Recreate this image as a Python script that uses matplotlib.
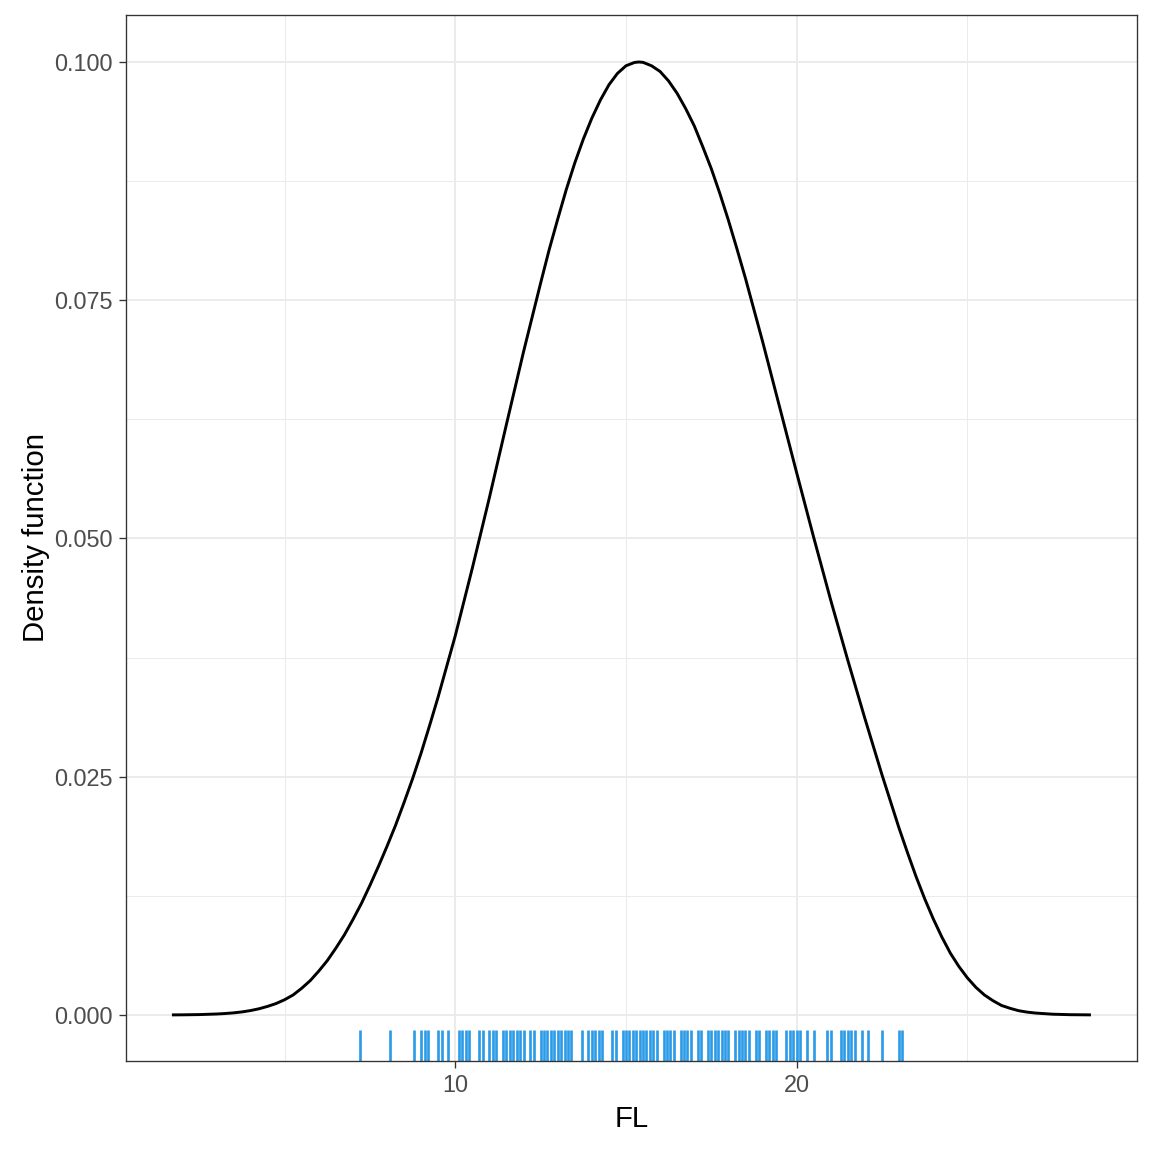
import matplotlib
matplotlib.use("Agg")
import matplotlib.pyplot as plt
from matplotlib.ticker import FixedLocator, FuncFormatter
import matplotlib.transforms as mtransforms

# Density curve (x = FL, y = density)
curve_x = [1.7, 2.0, 2.5, 3.0, 3.25, 3.5, 3.75, 4.0, 4.25, 4.5, 4.75, 5.0, 5.25, 5.5, 5.75,
           6.0, 6.25, 6.5, 6.75, 7.0, 7.25, 7.5, 7.75, 8.0, 8.25, 8.5, 8.75, 9.0, 9.25, 9.5,
           10.0, 10.5, 11.0, 11.5, 12.0, 12.25, 12.5, 12.75, 13.0, 13.25, 13.5, 13.75,
           14.0, 14.25, 14.5, 14.75, 15.0, 15.25, 15.375, 15.5, 15.75, 16.0, 16.25, 16.5,
           16.75, 17.0, 17.25, 17.5, 17.75, 18.0, 18.25, 18.5, 19.0, 19.5, 20.0, 20.5,
           21.0, 21.5, 22.0, 22.5, 22.75, 23.0, 23.25, 23.5, 23.75, 24.0, 24.25, 24.5,
           24.75, 25.0, 25.25, 25.5, 25.75, 26.0, 26.25, 26.5, 26.75, 27.0, 27.5, 28.0, 28.62]
curve_y = [0.000008, 0.000015, 0.00004, 0.0001, 0.00015, 0.00022, 0.00032, 0.00046, 0.00065,
           0.0009, 0.0012, 0.0016, 0.0021, 0.0028, 0.0036,
           0.0046, 0.0057, 0.0070, 0.0084, 0.0100, 0.0117, 0.0136, 0.0156, 0.0177, 0.0199,
           0.0223, 0.0248, 0.0275, 0.0304, 0.0334,
           0.0398, 0.0469, 0.0543, 0.0620, 0.0696, 0.0732, 0.0768, 0.0803, 0.0835, 0.0866,
           0.0894, 0.0919,
           0.0941, 0.0960, 0.0976, 0.0988, 0.0996, 0.09995, 0.1000, 0.09996, 0.0996, 0.0990,
           0.0980, 0.0967,
           0.0951, 0.0933, 0.0911, 0.0888, 0.0862, 0.0834, 0.0804, 0.0773, 0.0707, 0.0638,
           0.0569, 0.0501,
           0.0435, 0.0372, 0.0311, 0.0252, 0.0224, 0.0196, 0.0170, 0.0145, 0.0122, 0.0101,
           0.0082, 0.0065,
           0.0051, 0.0039, 0.0029, 0.0021, 0.0015, 0.0010, 0.0007, 0.00045, 0.0003, 0.0002,
           0.00008, 0.00003, 0.00001]

# Observations (rug)
rug_x = [7.2, 8.1, 8.8, 9.0, 9.1, 9.2, 9.5, 9.6, 9.8,
         10.1, 10.2, 10.3, 10.4, 10.7, 10.8, 11.0, 11.1, 11.2, 11.4, 11.5, 11.6, 11.7,
         11.8, 11.9, 12.0, 12.2, 12.3, 12.5, 12.6, 12.7,
         12.8, 12.9, 13.0, 13.1, 13.2, 13.3, 13.4, 13.7, 13.9, 14.0, 14.1, 14.2, 14.3,
         14.6, 14.7, 14.9, 15.0, 15.1, 15.2, 15.3, 15.4, 15.5, 15.6, 15.7,
         15.8, 15.9, 16.1, 16.2, 16.3, 16.4, 16.6, 16.7, 16.8, 16.9, 17.1, 17.2, 17.4,
         17.5, 17.6, 17.7, 17.8, 17.9, 18.0, 18.2, 18.3, 18.4, 18.5, 18.6,
         18.8, 18.9, 19.1, 19.2, 19.3, 19.4, 19.7, 19.8, 19.9, 20.0, 20.1, 20.3, 20.5,
         20.9, 21.0, 21.3, 21.4, 21.5,
         21.6, 21.7, 21.9, 22.1, 22.5, 23.0, 23.1]

x_major = [10, 20]
x_minor = [5, 15, 25]
y_major = [0.000, 0.025, 0.050, 0.075, 0.100]
y_minor = [0.0125, 0.0375, 0.0625, 0.0875]

x_label = "FL"
y_label = "Density function"

plt.rcParams['font.family'] = ['Liberation Sans', 'DejaVu Sans']

fig = plt.figure(figsize=(6, 6), dpi=192)
ax = fig.add_axes([126/1152, (1152-1061)/1152, (1137-126)/1152, (1061-15)/1152])

ax.set_xlim(0.354, 29.97)
ax.set_ylim(-0.00483, 0.10493)

ax.xaxis.set_major_locator(FixedLocator(x_major))
ax.xaxis.set_minor_locator(FixedLocator(x_minor))
ax.yaxis.set_major_locator(FixedLocator(y_major))
ax.yaxis.set_minor_locator(FixedLocator(y_minor))
ax.yaxis.set_major_formatter(FuncFormatter(lambda v, p: f"{v:.3f}"))

ax.grid(which='major', color='#EBEBEB', linewidth=0.75)
ax.grid(which='minor', color='#EBEBEB', linewidth=0.38)
ax.set_axisbelow(True)

ax.plot(curve_x, curve_y, color='black', linewidth=1.1, solid_joinstyle='round',
        solid_capstyle='butt')

trans = mtransforms.blended_transform_factory(ax.transData, ax.transAxes)
ax.vlines(rug_x, 0, 0.03, transform=trans, color='#2b9be8', linewidth=1.0)

for s in ax.spines.values():
    s.set_color('#333333')
    s.set_linewidth(0.5)

ax.tick_params(which='major', length=2.75, width=0.5, color='#333333',
               labelsize=8.8, labelcolor='#4D4D4D', pad=2.2)
ax.tick_params(which='minor', length=0)

ax.set_xlabel(x_label, fontsize=11, color='black', labelpad=2.75)
ax.set_ylabel(y_label, fontsize=11, color='black', labelpad=1.5)

fig.savefig("out.png", dpi=192, facecolor='white')
